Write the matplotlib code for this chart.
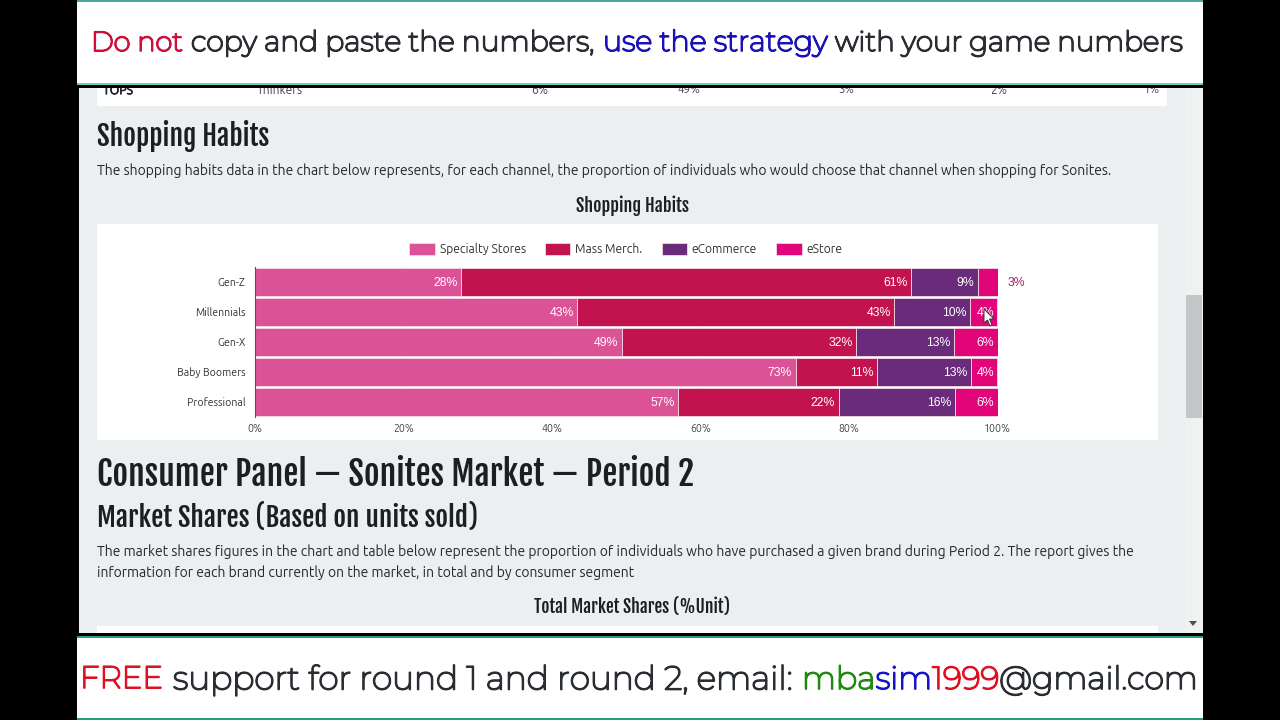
import matplotlib
matplotlib.use("Agg")
import matplotlib.pyplot as plt
import matplotlib.patheffects as pe
from matplotlib.patches import Rectangle, Polygon

# data (one decimal)
categories = ["Gen-Z", "Millennials", "Gen-X", "Baby Boomers", "Professional"]
channels = ["Specialty Stores", "Mass Merch.", "eCommerce", "eStore"]
specialty = [27.8, 43.4, 49.4, 72.8, 57.0]
mass_merch = [60.6, 42.7, 31.6, 11.0, 21.6]
ecommerce = [9.0, 10.2, 13.2, 12.6, 15.7]
estore = [2.6, 3.7, 5.8, 3.6, 5.7]
x_ticks = [0, 20, 40, 60, 80, 100]

COLORS = ["#DC5296", "#C2134F", "#6A2C7A", "#E2057A"]
PAGE = "#ECEFEF"
DARK = "#2A2E33"
BODY = ["Ubuntu", "Open Sans", "DejaVu Sans"]
HEAD = ["Fjalla One", "Oswald", "Open Sans"]
BANNER = ["Montserrat", "Inter", "DejaVu Sans"]
LABEL = ["Liberation Sans", "DejaVu Sans"]

fig = plt.figure(figsize=(12.8, 7.2), dpi=100, facecolor="black")
bg = fig.add_axes([0, 0, 1, 1], zorder=0)
bg.set_xlim(0, 1280)
bg.set_ylim(720, 0)
bg.axis("off")
renderer = fig.canvas.get_renderer()


def box(x0, y0, x1, y1, color, z=1):
    bg.add_patch(Rectangle((x0, y0), x1 - x0, y1 - y0, color=color, lw=0, zorder=z))


def thicken(t, color, width):
    # the Montserrat file comes out thin, a stroke gives it the banner's weight
    t.set_path_effects([pe.withStroke(linewidth=width, foreground=color)])


def fit(x0, x1, y, s, color=DARK, family=BODY, weight="normal", z=5):
    # scale the font so the string spans x0..x1 like in the screenshot
    t = bg.text(x0, y, s, color=color, family=family, weight=weight,
                fontsize=10, va="center", ha="left", zorder=z)
    w = t.get_window_extent(renderer).width
    t.set_fontsize(10 * (x1 - x0) / w)
    return t


def banner(x0, x1, y, s, color=DARK):
    thicken(fit(x0, x1, y, s, color, BANNER, "medium", 8), color, 1.3)


def run(x0, x1, y, parts, family=BANNER, weight="medium", z=8):
    # one font size over several coloured pieces, placed one after the other
    items = [bg.text(x0, y, s, color=c, family=family, weight=weight, fontsize=10,
                     va="center", ha="left", zorder=z) for s, c in parts]
    total = sum(t.get_window_extent(renderer).width for t in items)
    size = 10 * (x1 - x0) / total
    x = x0
    for t, (s, c) in zip(items, parts):
        t.set_fontsize(size)
        t.set_x(x)
        x += t.get_window_extent(renderer).width
        thicken(t, c, 1.3)


# page furniture
box(79, 88, 1203, 633, PAGE)
box(97, 88, 1167, 106, "white", 2)
box(97, 224, 1158, 440, "white", 2)
box(97, 626, 1158, 633, "white", 2)
box(1185, 88, 1203, 633, "#F0F1F1", 2)
box(1186, 295, 1202, 418, "#C4C6C7", 3)
bg.add_patch(Polygon([(1189, 621), (1197, 621), (1193, 626)], color="#505050", lw=0, zorder=3))

# top banner
box(77, 0, 1203, 84, "white", 6)
box(77, 0, 1203, 1.5, "#4FA89A", 7)
box(77, 83, 1203, 85, "#6CCFC0", 7)
box(77, 85, 1203, 88, "black", 7)
banner(91, 183, 43.5, "Do not", "#CF0F3C")
banner(191, 594, 43.5, "copy and paste the numbers,")
banner(603, 827, 43.5, "use the strategy", "#1B12B5")
banner(835, 1183, 43.5, "with your game numbers")

# bottom banner
box(77, 633, 1203, 636, "black", 6)
box(77, 636, 1203, 720, "white", 6)
box(77, 636, 1203, 638, "#2C9C80", 7)
box(77, 718, 1203, 720, "#2C9C80", 7)
banner(80, 163, 680, "FREE", "#E01020")
banner(173, 793, 680, "support for round 1 and round 2, email:")
run(802, 1198, 680, [("mba", "#1E8A10"), ("sim", "#1414C8"), ("1999", "#E01020"), ("@gmail.com", DARK)])

# clipped table row
thicken(fit(103, 133, 90, "TOPS", "#222222", BODY, "bold"), "#222222", 0.5)
fit(257, 303, 90, "Thinkers", "#444444")
for x0, x1, s in [(531, 548, "6%"), (678, 701, "49%"), (838, 854, "3%"),
                  (990, 1007, "2%"), (1144, 1160, "1%")]:
    fit(x0, x1, 90, s, "#444444")

# headings and copy
fit(97, 269, 136, "Shopping Habits", "#1B1E22", HEAD)
fit(97, 1111, 171, "The shopping habits data in the chart below represents, for each channel, "
    "the proportion of individuals who would choose that channel when shopping for Sonites.", "#26292D")
fit(576, 688, 205.5, "Shopping Habits", "#1B1E22", HEAD)
fit(97, 694, 474, "Consumer Panel \u2014 Sonites Market \u2014 Period 2", "#1B1E22", HEAD)
fit(97, 478, 518, "Market Shares (Based on units sold)", "#1B1E22", HEAD)
fit(97, 1134, 552, "The market shares figures in the chart and table below represent the proportion of "
    "individuals who have purchased a given brand during Period 2. The report gives the", "#26292D")
fit(97, 635, 573, "information for each brand currently on the market, in total and by consumer segment", "#26292D")
fit(534, 730, 607, "Total Market Shares (%Unit)", "#1B1E22", HEAD)

# chart: 100% stacked bars
ax = fig.add_axes([255 / 1280, 1 - 417 / 720, 742.5 / 1280, 150 / 720], zorder=4)
ax.patch.set_alpha(0)
series = [specialty, mass_merch, ecommerce, estore]
y = list(range(len(categories)))
left = [0.0] * len(categories)

for i, name in enumerate(channels):
    ax.barh(y, series[i], left=left, height=0.93, color=COLORS[i],
            edgecolor="#F3D9E6", linewidth=0.6, label=name, zorder=3)
    for j, val in enumerate(series[i]):
        right = left[j] + val
        if val < 3:
            # too thin for the label, it goes outside in the series colour
            ax.annotate(f"{val:.0f}%", (right, y[j]), xytext=(7.5, -0.7), textcoords="offset points",
                        color="#A8206A", fontsize=8.8, ha="left", va="center", family=LABEL)
        else:
            ax.annotate(f"{val:.0f}%", (right, y[j]), xytext=(-2.6, -0.7), textcoords="offset points",
                        color="white", fontsize=8.8, ha="right", va="center", family=LABEL, zorder=5)
        left[j] = right

ax.set_xlim(0, 100)
ax.set_ylim(len(categories) - 0.5, -0.5)
ax.set_yticks(y)
ax.set_yticklabels(categories, family=BODY, fontsize=7.6, color="#333333")
ax.set_xticks(x_ticks)
ax.set_xticklabels([f"{v}%" for v in x_ticks], family=BODY, fontsize=7.6, color="#444444")
ax.tick_params(axis="y", length=0, pad=7)
ax.tick_params(axis="x", length=0, pad=4.5)
ax.xaxis.grid(True, color="#EDEDED", linewidth=0.7, zorder=0)
ax.set_axisbelow(True)
for side in ["top", "right", "bottom"]:
    ax.spines[side].set_visible(False)
ax.spines["left"].set_color("#555555")
ax.spines["left"].set_linewidth(0.8)
ax.spines["left"].set_zorder(6)

leg = ax.legend(loc="center", bbox_to_anchor=((626 - 255) / 742.5, 1.12), ncol=4, frameon=False,
                handlelength=2.1, handleheight=1.15, columnspacing=1.6, handletextpad=0.4,
                borderpad=0, prop={"family": BODY, "size": 8.7})
for txt in leg.get_texts():
    txt.set_color("#333333")

# mouse pointer from the screen recording
cursor = fig.add_axes([0, 0, 1, 1], zorder=9)
cursor.set_xlim(0, 1280)
cursor.set_ylim(720, 0)
cursor.axis("off")
cursor.add_patch(Polygon([(984, 309), (984, 323), (987.5, 320), (990, 326), (992, 325),
                          (989.5, 319), (994, 319)], facecolor="white", edgecolor="#333333", lw=0.7))

fig.savefig("out.png", dpi=100, facecolor="black")
